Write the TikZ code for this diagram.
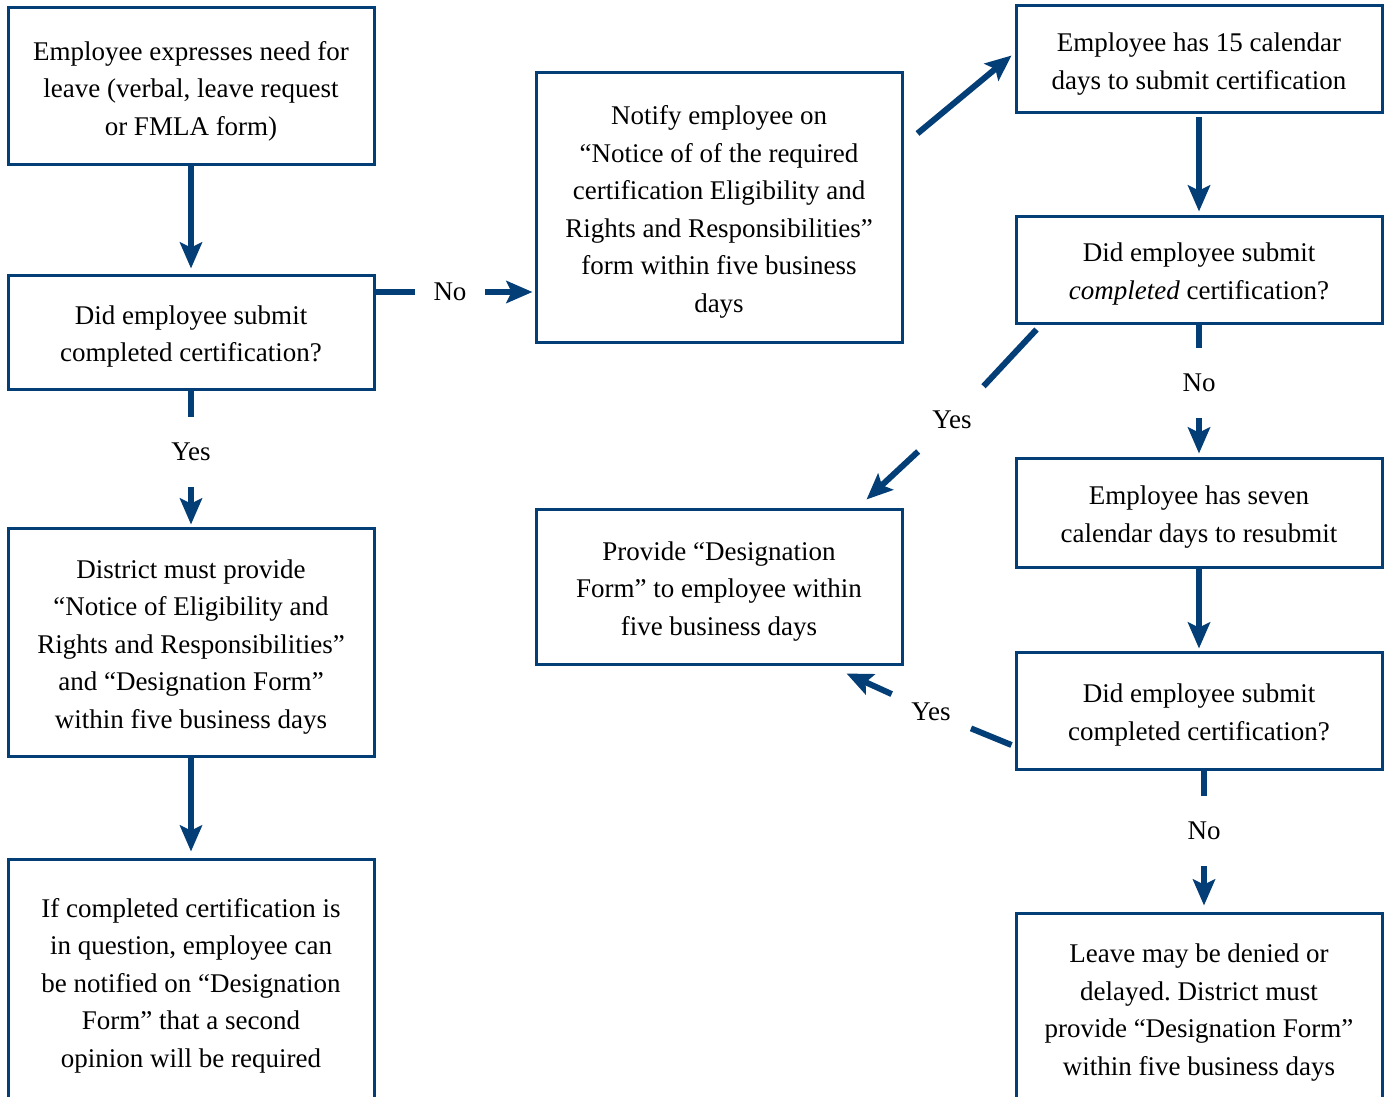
\documentclass[tikz,border=0pt]{standalone}
\usepackage{fontspec}
\setmainfont{Liberation Serif}
\usetikzlibrary{arrows.meta,calc}
\definecolor{navy}{RGB}{4,62,118}
\newcommand{\mytop}{\rule{0pt}{28pt}}
\frenchspacing
\begin{document}
\begin{tikzpicture}[x=1pt,y=-1pt,
  box/.style={draw=navy, line width=3pt, rectangle, minimum width=366pt, align=center, inner sep=0pt, font=\fontsize{27}{37.5}\selectfont},
  conn/.style={draw=navy, line width=6pt},
  arr/.style={conn, -{Stealth[length=26pt,width=22pt,inset=5pt]}},
  lab/.style={circle, minimum size=70pt, inner sep=0pt, font=\fontsize{27}{30}\selectfont},
  dlab/.style={lab, minimum size=90pt}]
\useasboundingbox (0,0) rectangle (1385,1097);
\clip (0,0) rectangle (1385,1097);
% boxes
\node[box, minimum height=157pt] (b1) at (191,86.5) {\mytop Employee expresses need for\\leave (verbal, leave request\\or FMLA form)};
\node[box, minimum height=114pt] (b2) at (191,332) {\mytop Did employee submit\\completed certification?};
\node[box, minimum height=228pt] (b3) at (191,642) {\mytop District must provide\\“Notice of Eligibility and\\Rights and Responsibilities”\\and “Designation Form”\\within five business days};
\node[box, minimum height=244pt] (b4) at (191,981) {\mytop If completed certification is\\in question, employee can\\be notified on “Designation\\Form” that a second\\opinion will be required};
\node[box, minimum height=269pt] (b5) at (719,207.5) {\mytop Notify employee on\\“Notice of of the required\\certification Eligibility and\\Rights and Responsibilities”\\form within five business\\days};
\node[box, minimum height=155pt] (b6) at (719,586.5) {\mytop Provide “Designation\\Form” to employee within\\five business days};
\node[box, minimum height=107pt] (b7) at (1199,59.5) {\mytop Employee has 15 calendar\\days to submit certification};
\node[box, minimum height=107pt] (b8) at (1199,269.5) {\mytop Did employee submit\\\textit{completed} certification?};
\node[box, minimum height=109pt] (b9) at (1199,512.5) {\mytop Employee has seven\\calendar days to resubmit};
\node[box, minimum height=117pt] (b10) at (1199,710.5) {\mytop Did employee submit\\completed certification?};
\node[box, minimum height=190pt] (b11) at (1199,1008) {\mytop Leave may be denied or\\delayed. District must\\provide “Designation Form”\\within five business days};
% labels
\node[lab] (no1) at (450,292) {No};
\node[lab] (yes1) at (191,452) {Yes};
\node[dlab, minimum size=92pt] (yes2) at (952,420) {Yes};
\node[lab] (no2) at (1199,383) {No};
\node[dlab, minimum size=86pt] (yes3) at (931,712) {Yes};
\node[lab] (no3) at (1204,831) {No};
% free ends
\coordinate (c0) at ($(b5.north east)+(14,62)$);
\coordinate (c0b) at ($(b7.west)+(-3,-4)$);
\coordinate (c1) at ($(b8.south west)+(22,5)$);
\coordinate (c2) at ($(b6.north east)+(-37,-8)$);
\coordinate (c3) at ($(b10.west)+(-3,34.5)$);
\coordinate (c4) at ($(b6.south east)+(-57,8)$);
% connectors
\draw[arr, shorten >=5pt] (b1) -- (b2);
\draw[conn] (b2.east |- no1) -- (no1);
\draw[arr, shorten >=2pt] (no1) -- (b5.west |- no1);
\draw[conn] (b2) -- (yes1);
\draw[arr, shorten >=2pt] (yes1) -- (b3);
\draw[arr, shorten >=6pt] (b3) -- (b4);
\draw[arr] (c0) -- (c0b);
\draw[arr, shorten <=3pt, shorten >=3pt] (b7) -- (b8);
\draw[conn] (c1) -- (yes2);
\draw[arr] (yes2) -- (c2);
\draw[conn] (b8) -- (no2);
\draw[arr, shorten >=3pt] (no2) -- (b9);
\draw[arr, shorten >=2pt] (b9) -- (b10);
\draw[conn] (c3) -- (yes3);
\draw[arr] (yes3) -- (c4);
\draw[conn] (b10.south -| no3) -- (no3);
\draw[arr, shorten >=6pt] (no3) -- (b11.north -| no3);
\end{tikzpicture}
\end{document}
